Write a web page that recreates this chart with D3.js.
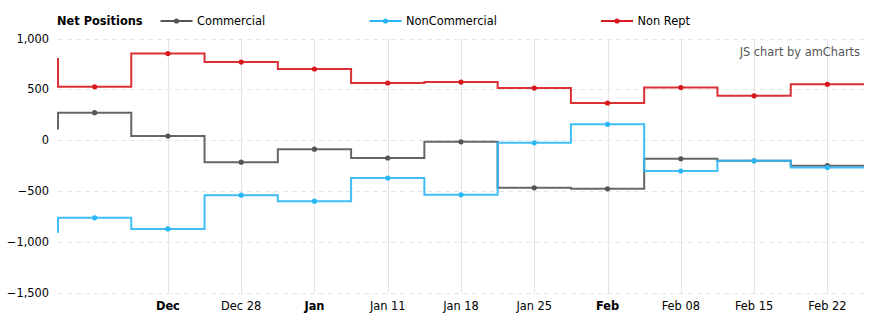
<!DOCTYPE html>
<html>
<head>
<meta charset="utf-8">
<script src="https://cdn.jsdelivr.net/npm/d3@7"></script>
<style>
  html, body { margin: 0; padding: 0; background: #fff; }
  svg { display: block; font-family: "DejaVu Sans", Verdana, sans-serif; }
</style>
</head>
<body>
<svg id="chart" width="882" height="325"></svg>
<script>
// ---- data ----
const dates = ["2020-12-07","2020-12-14","2020-12-21","2020-12-28","2021-01-04","2021-01-11",
               "2021-01-18","2021-01-25","2021-02-01","2021-02-08","2021-02-15","2021-02-22"];
const commercial    = [115, 270, 40, -217, -89, -176, -17, -470, -480, -184, -204, -252];
const nonCommercial = [-903, -765, -874, -542, -601, -374, -539, -27, 155, -305, -204, -269];
const nonRept       = [798, 525, 852, 768, 700, 562, 571, 512, 365, 517, 436, 549];

const seriesNames  = ["Commercial", "NonCommercial", "Non Rept"];
const seriesColors = ["#555555", "#2bb7f5", "#d7191f"];

const tickDates  = ["2020-12-21","2020-12-28","2021-01-04","2021-01-11","2021-01-18",
                    "2021-01-25","2021-02-01","2021-02-08","2021-02-15","2021-02-22"];
const tickLabels = ["Dec","Dec 28","Jan","Jan 11","Jan 18","Jan 25","Feb","Feb 08","Feb 15","Feb 22"];
const tickBold   = [true,false,true,false,false,false,true,false,false,false];
const yTicks = [1000, 500, 0, -500, -1000, -1500];

(function () {
// ---- layout ----
const parse = d3.utcParse("%Y-%m-%d");
const pLeft = 58, pRight = 864, pTop = 38.5, pBottom = 292.5;
const halfWeek = 3.5 * 864e5;
const xDomain = [new Date(+parse(dates[1]) - halfWeek), new Date(+parse(dates[dates.length-1]) + halfWeek)];
const x = d3.scaleUtc().domain(xDomain).range([pLeft, pRight]);
const y = d3.scaleLinear().domain([-1500, 1000]).range([pBottom, pTop]);

const svg = d3.select("#chart");
const fs = "11.4px";

// clip
svg.append("defs").append("clipPath").attr("id", "clip")
  .append("rect").attr("x", pLeft - 1).attr("y", 0).attr("width", pRight - pLeft + 1).attr("height", 325);

// vertical grid
svg.append("g").selectAll("line").data(tickDates).join("line")
  .attr("x1", d => Math.round(x(parse(d))) + 0.5).attr("x2", d => Math.round(x(parse(d))) + 0.5)
  .attr("y1", pTop).attr("y2", pBottom)
  .attr("stroke", "#e3e3e3").attr("stroke-width", 1);

// horizontal dashed grid
svg.append("g").selectAll("line").data(yTicks).join("line")
  .attr("x1", pLeft).attr("x2", pRight)
  .attr("y1", d => Math.round(y(d)) + 0.5).attr("y2", d => Math.round(y(d)) + 0.5)
  .attr("stroke", "#e6e6e6").attr("stroke-width", 1).attr("stroke-dasharray", "5,4");

// y axis labels
svg.append("g").selectAll("text").data(yTicks).join("text")
  .attr("x", 49).attr("y", d => y(d)).attr("dy", "0.36em")
  .attr("text-anchor", "end").attr("font-size", fs).attr("fill", "#000")
  .text(d => d3.format(",")(d));

// x axis labels
svg.append("g").selectAll("text").data(tickDates).join("text")
  .attr("x", d => x(parse(d))).attr("y", 310)
  .attr("text-anchor", "middle").attr("font-size", fs).attr("fill", "#000")
  .attr("font-weight", (d, i) => tickBold[i] ? "bold" : "normal")
  .text((d, i) => tickLabels[i]);

// series
const allSeries = [commercial, nonCommercial, nonRept];
const line = d3.line().x(d => x(d.date)).y(d => y(d.value)).curve(d3.curveStep);
const plot = svg.append("g").attr("clip-path", "url(#clip)");
allSeries.forEach((vals, si) => {
  const pts = dates.map((d, i) => ({ date: parse(d), value: vals[i] }));
  const path = line(pts) + "H" + x(xDomain[1]);
  plot.append("path").attr("d", path).attr("fill", "none")
    .attr("stroke", seriesColors[si]).attr("stroke-width", 2).attr("stroke-opacity", 0.9);
  plot.append("g").selectAll("circle").data(pts.slice(1)).join("circle")
    .attr("cx", d => x(d.date)).attr("cy", d => y(d.value)).attr("r", 2.6)
    .attr("fill", seriesColors[si]);
});

// legend
svg.append("text").attr("x", 57).attr("y", 25).attr("font-size", fs)
  .attr("font-weight", "bold").attr("fill", "#000").text("Net Positions");
const legendX = [160.5, 369.5, 601];
seriesNames.forEach((name, i) => {
  const g = svg.append("g").attr("transform", `translate(${legendX[i]},21)`);
  g.append("line").attr("x1", 0).attr("x2", 32).attr("y1", 0).attr("y2", 0)
    .attr("stroke", seriesColors[i]).attr("stroke-width", 2);
  g.append("circle").attr("cx", 16).attr("cy", 0).attr("r", 2.6).attr("fill", seriesColors[i]);
  g.append("text").attr("x", 36.5).attr("y", 0).attr("dy", "0.36em")
    .attr("font-size", fs).attr("fill", "#000").text(name);
});

// credit
svg.append("text").attr("x", 860).attr("y", 52).attr("dy", "0.36em")
  .attr("text-anchor", "end").attr("font-size", fs).attr("fill", "#555").text("JS chart by amCharts");
})();
</script>
</body>
</html>
